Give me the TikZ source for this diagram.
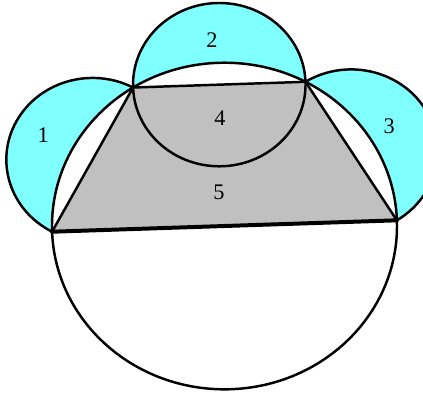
\documentclass[tikz,border=0pt]{standalone}
\usepackage{fontspec}
\setmainfont{Liberation Serif}
\usetikzlibrary{calc}
\definecolor{lunecyan}{HTML}{80FFFF}
\definecolor{trapgray}{HTML}{C0C0C0}
\tikzset{
  rim/.style={draw=black, line width=2.1pt},
  base/.style={draw=black, line width=3.4pt, line cap=round},
  num/.style={font=\fontsize{19}{22}\selectfont, inner sep=0pt},
}

\begin{document}
\begin{tikzpicture}[xscale=5.175, yscale=4.899]
    \useasboundingbox (-1.3014,-1.0165) rectangle (1.1507,1.3840);
    \coordinate (O) at (0,0);
    \coordinate (A) at (122:1);
    \coordinate (B) at (62:1);
    \coordinate (C) at (2:1);
    \coordinate (D) at (182:1);
    \coordinate (M1) at ($(A)!0.5!(D)$);
    \coordinate (M2) at ($(A)!0.5!(B)$);
    \coordinate (M3) at ($(B)!0.5!(C)$);
    % lunes, then the big circle and the trapezoid on top
    \fill[lunecyan] (M1) circle[radius=0.5] (M2) circle[radius=0.5] (M3) circle[radius=0.5];
    \fill[white] (O) circle[radius=1];
    \fill[trapgray] (A) -- (B) -- (C) -- (D) -- cycle;
    \draw[rim] (O) circle[radius=1];
    \draw[rim] (M2) circle[radius=0.5];
    \draw[rim] (A) arc[start angle=62, end angle=242, radius=0.5];
    \draw[rim] (C) arc[start angle=-58, end angle=122, radius=0.5];
    \draw[rim, line join=round] (D) -- (A) -- (B) -- (C);
    \draw[base] (D) -- (C);
    \node[num] (n1) at (-1.0504,0.5573) {1};
    \node[num] (n2) at (-0.0725,1.139) {2};
    \node[num] (n3) at (0.9554,0.6124) {3};
    \node[num] (n4) at (-0.0261,0.6595) {4};
    \node[num] (n5) at (-0.0319,0.2039) {5};
\end{tikzpicture}
\end{document}
